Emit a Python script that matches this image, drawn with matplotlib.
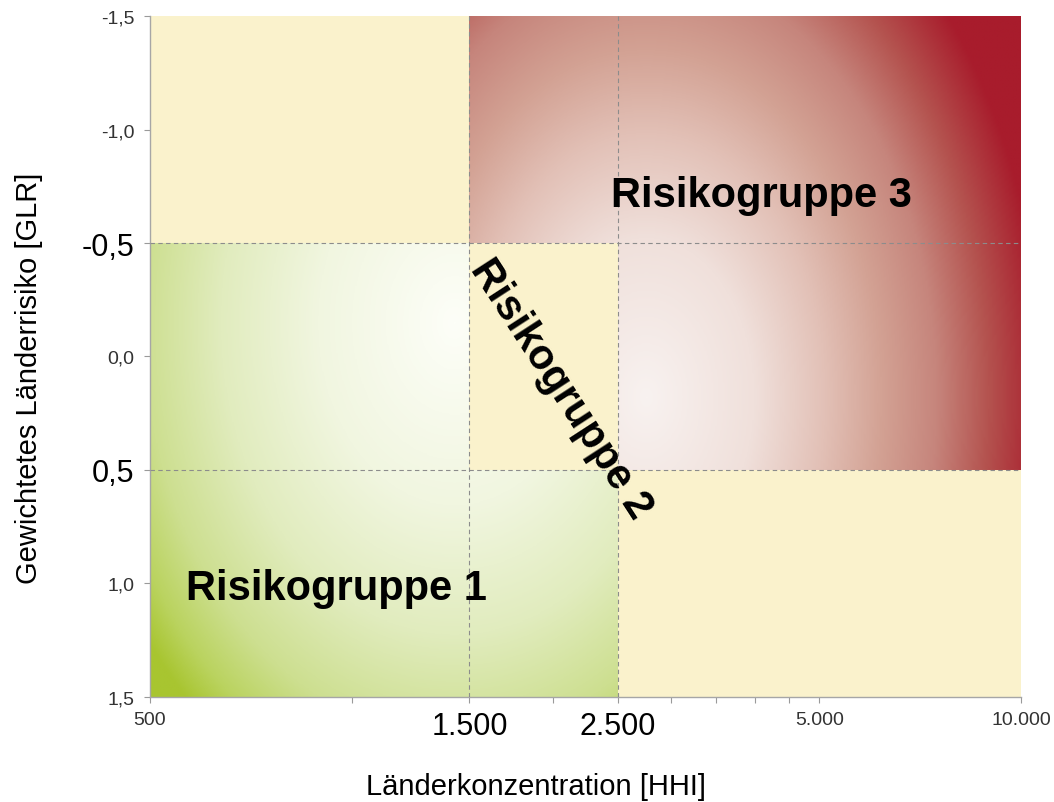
import numpy as np
import matplotlib
matplotlib.use("Agg")
import matplotlib.pyplot as plt
from matplotlib.colors import LinearSegmentedColormap
from matplotlib.patches import Rectangle

plt.rcParams["font.family"] = ["Liberation Sans", "DejaVu Sans"]

# Grenzen der Felder (HHI, GLR)
x_edges = [500, 1500, 2500, 10000]
y_edges = [-1.5, -0.5, 0.5, 1.5]

x_ticks = [500, 1500, 2500, 5000, 10000]
x_ticklabels = ["500", "1.500", "2.500", "5.000", "10.000"]
x_big = [False, True, True, False, False]
x_minor = [1000, 2000, 3000, 3500, 4000, 4500]

y_ticks = [-1.5, -1.0, -0.5, 0.0, 0.5, 1.0, 1.5]
y_ticklabels = ["-1,5", "-1,0", "-0,5", "0,0", "0,5", "1,0", "1,5"]
y_big = [False, False, True, False, True, False, False]

groups = ["Risikogruppe 1", "Risikogruppe 2", "Risikogruppe 3"]
group_x = [950, 2050, 4100]
group_y = [1.02, 0.14, -0.71]
group_rot = [0, -57, 0]

cream = "#FAF2CC"
green_stops = [(0.0, "#FDFEF8"), (0.35, "#F1F6E0"), (0.6, "#E1ECBE"),
               (0.8, "#CDDF90"), (0.92, "#BAD35F"), (1.0, "#A8C530")]
red_stops = [(0.0, "#F8F2F0"), (0.27, "#F0E0DB"), (0.45, "#E2C0B6"),
             (0.59, "#D3A294"), (0.73, "#C6857C"), (0.86, "#B4534F"), (1.0, "#A81C2C")]
cm_green = LinearSegmentedColormap.from_list("gr", green_stops)
cm_red = LinearSegmentedColormap.from_list("rd", red_stops)

fig = plt.figure(figsize=(10.54, 8.03), dpi=100)
ax = fig.add_axes([0.1423, 0.1308, 0.8264, 0.848])
ax.set_xscale("log")
ax.set_xlim(x_edges[0], x_edges[-1])
ax.set_ylim(y_edges[-1], y_edges[0])
ax.set_facecolor(cream)


def to_axes(x, y):
    return ax.transAxes.inverted().transform(ax.transData.transform((x, y)))


def gradient(x0, x1, y0, y1, cu, cv, rx, ry, cmap, dmax):
    (u0, v0), (u1, v1) = to_axes(x0, y1), to_axes(x1, y0)
    uu, vv = np.meshgrid(np.linspace(u0, u1, 400), np.linspace(v1, v0, 400))
    d = np.sqrt(((uu - cu) / rx) ** 2 + ((vv - cv) / ry) ** 2) / dmax
    img = cmap(np.clip(d, 0, 1))
    ax.imshow(img, extent=[u0, u1, v0, v1], transform=ax.transAxes,
              aspect="auto", interpolation="bilinear", zorder=1)


# Risikogruppe 1 (gruen) und 3 (rot)
gradient(x_edges[0], x_edges[2], y_edges[1], y_edges[3], 0.35, 0.55, 0.482, 0.822, cm_green, 0.93)
gradient(x_edges[1], x_edges[3], y_edges[0], y_edges[2], 0.57, 0.44, 0.458, 0.865, cm_red, 1.0)
ax.add_patch(Rectangle((x_edges[1], y_edges[1]), x_edges[2] - x_edges[1],
                       y_edges[2] - y_edges[1], facecolor=cream, edgecolor="none", zorder=2))

for xv in x_edges[1:3]:
    ax.axvline(xv, color="#8C8C8C", lw=0.8, dashes=(4, 3), zorder=3)
for yv in y_edges[1:3]:
    ax.axhline(yv, color="#8C8C8C", lw=0.8, dashes=(4, 3), zorder=3)

for name, gx, gy, rot in zip(groups, group_x, group_y, group_rot):
    ax.text(gx, gy, name, fontsize=30, fontweight="bold", rotation=rot,
            ha="center", va="center", rotation_mode="anchor", zorder=4)

ax.set_xticks(x_ticks)
ax.set_xticks(x_minor, minor=True)
ax.set_xticklabels(x_ticklabels)
ax.set_xticklabels([], minor=True)
ax.set_yticks(y_ticks)
ax.set_yticklabels(y_ticklabels)

for lab, big in zip(ax.get_xticklabels(), x_big):
    lab.set_fontsize(22 if big else 14)
    lab.set_color("black" if big else "#333333")
for lab, big in zip(ax.get_yticklabels(), y_big):
    lab.set_fontsize(22 if big else 14)
    lab.set_color("black" if big else "#333333")

ax.tick_params(which="both", direction="out", length=4, width=0.8, color="#9A9A9A")
ax.tick_params(axis="x", pad=6)
ax.tick_params(axis="y", pad=7)

for side in ["top", "right"]:
    ax.spines[side].set_visible(False)
for side in ["left", "bottom"]:
    ax.spines[side].set_color("#A6A6A6")
    ax.spines[side].set_linewidth(1.0)

ax.set_xlabel("Länderkonzentration [HHI]", fontsize=21)
ax.set_ylabel("Gewichtetes Länderrisiko [GLR]", fontsize=21)
ax.xaxis.set_label_coords(0.443, -0.11)
ax.yaxis.set_label_coords(-0.123, 0.47)

fig.savefig("out.png", dpi=100)
